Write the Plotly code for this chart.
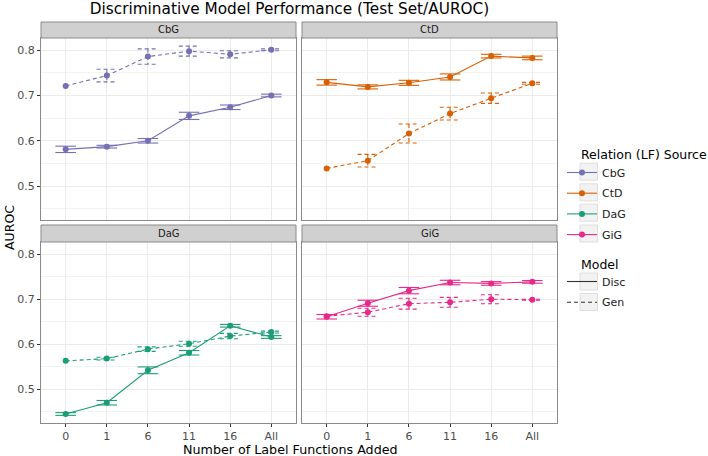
import plotly.graph_objects as go

# ---- data ----
categories = ['0', '1', '6', '11', '16', 'All']
relations = ['CbG', 'CtD', 'DaG', 'GiG']
colors = ['#7570b3', '#d95f02', '#1b9e77', '#e7298a']
models = ['Disc', 'Gen']

cbg_disc = [0.581, 0.587, 0.600, 0.655, 0.674, 0.700]
cbg_disc_err = [0.007, 0.003, 0.005, 0.008, 0.005, 0.003]
cbg_gen = [0.721, 0.744, 0.786, 0.798, 0.791, 0.801]
cbg_gen_err = [None, 0.014, 0.017, 0.011, 0.008, 0.002]

ctd_disc = [0.729, 0.719, 0.728, 0.741, 0.787, 0.783]
ctd_disc_err = [0.006, 0.0045, 0.0055, 0.0067, 0.004, 0.004]
ctd_gen = [0.539, 0.556, 0.616, 0.660, 0.694, 0.727]
ctd_gen_err = [None, 0.014, 0.021, 0.014, 0.0115, 0.002]

dag_disc = [0.445, 0.470, 0.542, 0.581, 0.641, 0.616]
dag_disc_err = [0.003, 0.005, 0.0075, 0.005, 0.003, 0.003]
dag_gen = [0.563, 0.568, 0.589, 0.601, 0.618, 0.627]
dag_gen_err = [None, 0.003, 0.005, 0.0055, 0.006, 0.002]

gig_disc = [0.661, 0.691, 0.719, 0.737, 0.735, 0.7385]
gig_disc_err = [0.005, 0.0067, 0.007, 0.005, 0.004, 0.003]
gig_gen = [0.662, 0.671, 0.690, 0.693, 0.700, 0.699]
gig_gen_err = [None, 0.009, 0.012, 0.011, 0.010, 0.001]

y_ticks = [0.5, 0.6, 0.7, 0.8]

series = {
    'CbG': (cbg_disc, cbg_disc_err, cbg_gen, cbg_gen_err),
    'CtD': (ctd_disc, ctd_disc_err, ctd_gen, ctd_gen_err),
    'DaG': (dag_disc, dag_disc_err, dag_gen, dag_gen_err),
    'GiG': (gig_disc, gig_disc_err, gig_gen, gig_gen_err),
}

W, H = 708, 456
ML, MR, MT, MB = 41, 151, 22, 33
PW = W - ML - MR
PH = H - MT - MB

def xdom(px0, px1):
    return [(px0 - ML) / PW, (px1 - ML) / PW]

def ydom(py0, py1):  # py0 top pixel, py1 bottom pixel
    return [(H - MB - py1) / PH, (H - MB - py0) / PH]

def px_x(px):
    return (px - ML) / PW

def px_y(py):
    return (H - MB - py) / PH

panels = {
    'CbG': dict(ax=1, xd=xdom(41, 296), yd=ydom(38, 220), strip=16),
    'CtD': dict(ax=2, xd=xdom(302, 557), yd=ydom(38, 220), strip=16),
    'DaG': dict(ax=3, xd=xdom(41, 296), yd=ydom(242, 423), strip=17),
    'GiG': dict(ax=4, xd=xdom(302, 557), yd=ydom(242, 423), strip=17),
}

xs = list(range(len(categories)))
CAP = 0.25

def errbar_path(vals, errs):
    ex, ey = [], []
    for i, (v, e) in enumerate(zip(vals, errs)):
        if e is None:
            continue
        ex += [i - CAP, i + CAP, None, i, i, None, i - CAP, i + CAP, None]
        ey += [v + e, v + e, None, v + e, v - e, None, v - e, v - e, None]
    return ex, ey

fig = go.Figure()
DASH = '4px,3px'
LW = 1.1

for rel, col in zip(relations, colors):
    p = panels[rel]
    a = p['ax']
    xa = 'x' if a == 1 else f'x{a}'
    ya = 'y' if a == 1 else f'y{a}'
    disc, disc_err, gen, gen_err = series[rel]
    for vals, errs, dash in [(gen, gen_err, DASH), (disc, disc_err, 'solid')]:
        ex, ey = errbar_path(vals, errs)
        fig.add_trace(go.Scatter(x=ex, y=ey, mode='lines', xaxis=xa, yaxis=ya,
                                 line=dict(color=col, width=LW, dash=dash),
                                 showlegend=False, hoverinfo='skip'))
        fig.add_trace(go.Scatter(x=xs, y=vals, mode='lines+markers', xaxis=xa, yaxis=ya,
                                 line=dict(color=col, width=LW, dash=dash),
                                 marker=dict(color=col, size=6),
                                 showlegend=False))

# legend entries
for rel, col in zip(relations, colors):
    fig.add_trace(go.Scatter(x=[None], y=[None], mode='lines+markers', name=rel,
                             line=dict(color=col, width=LW), marker=dict(color=col, size=6),
                             legend='legend', legendgroup=rel))
for name, dash in zip(models, ['solid', DASH]):
    fig.add_trace(go.Scatter(x=[None], y=[None], mode='lines', name=name,
                             line=dict(color='#333333', width=LW, dash=dash),
                             legend='legend2', legendgroup=name))

tickfont = dict(family='DejaVu Sans', size=11, color='#4d4d4d')
shapes, annotations = [], []
for rel in relations:
    p = panels[rel]
    a = p['ax']
    sfx = '' if a == 1 else str(a)
    bottom = rel in ('DaG', 'GiG')
    left = rel in ('CbG', 'DaG')
    fig.layout[f'xaxis{sfx}'] = dict(
        domain=p['xd'], anchor=f'y{sfx}', range=[-0.6, 5.6],
        tickmode='array', tickvals=xs, ticktext=categories,
        showticklabels=bottom, ticks='outside' if bottom else '', ticklen=3,
        tickcolor='#333333', tickfont=tickfont,
        showgrid=True, gridcolor='#ebebeb', gridwidth=1, zeroline=False,
        showline=True, mirror=True, linecolor='#8a8a8a', linewidth=1)
    fig.layout[f'yaxis{sfx}'] = dict(
        domain=p['yd'], anchor=f'x{sfx}', range=[0.425, 0.827],
        tickmode='array', tickvals=y_ticks, ticktext=[f'{v:.1f}' for v in y_ticks],
        showticklabels=left, ticks='outside' if left else '', ticklen=3,
        tickcolor='#333333', tickfont=tickfont,
        showgrid=True, gridcolor='#ebebeb', gridwidth=1, zeroline=False,
        minor=dict(tickvals=[0.45, 0.55, 0.65, 0.75], showgrid=True, gridcolor='#f3f3f3', gridwidth=0.6, ticks=''),
        showline=True, mirror=True, linecolor='#8a8a8a', linewidth=1)
    hfrac = p['strip'] / ((p['yd'][1] - p['yd'][0]) * PH)
    shapes.append(dict(type='rect', xref=f'x{sfx} domain', yref=f'y{sfx} domain',
                       x0=0, x1=1, y0=1, y1=1 + hfrac, fillcolor='#d0d0d0',
                       line=dict(color='#8a8a8a', width=1), layer='above'))
    annotations.append(dict(text=rel, xref=f'x{sfx} domain', yref=f'y{sfx} domain',
                            x=0.5, y=1 + hfrac / 2, showarrow=False, yanchor='middle',
                            font=dict(family='DejaVu Sans', size=10, color='#1a1a1a')))

# legend key boxes (decoration)
for yc in [171.7, 192.3, 212.7, 233.5, 281.5, 302.0]:
    shapes.append(dict(type='rect', xref='paper', yref='paper',
                       x0=px_x(580), x1=px_x(597.5), y0=px_y(yc + 8.5), y1=px_y(yc - 8.5),
                       fillcolor='#f2f2f2', line=dict(color='#dedede', width=1), layer='below'))

annotations.append(dict(text='AUROC', xref='paper', yref='paper', x=px_x(9),
                        y=px_y(228), textangle=-90, showarrow=False,
                        xanchor='center', yanchor='middle',
                        font=dict(family='DejaVu Sans', size=12.5, color='#000000')))
annotations.append(dict(text='Number of Label Functions Added', xref='paper', yref='paper',
                        x=px_x(290.5), y=px_y(449), showarrow=False,
                        xanchor='center', yanchor='middle',
                        font=dict(family='DejaVu Sans', size=12.7, color='#000000')))
annotations.append(dict(text='Relation (LF) Source', xref='paper', yref='paper',
                        x=px_x(579), y=px_y(154), showarrow=False,
                        xanchor='left', yanchor='middle',
                        font=dict(family='DejaVu Sans', size=12.5, color='#000000')))
annotations.append(dict(text='Model', xref='paper', yref='paper',
                        x=px_x(579), y=px_y(264), showarrow=False,
                        xanchor='left', yanchor='middle',
                        font=dict(family='DejaVu Sans', size=12.5, color='#000000')))

fig.update_layout(
    width=W, height=H,
    margin=dict(l=ML, r=MR, t=MT, b=MB, autoexpand=False),
    paper_bgcolor='white', plot_bgcolor='white',
    title=dict(text='Discriminative Model Performance (Test Set/AUROC)',
               x=289.5 / W, xanchor='center', y=1 - 9 / H, yanchor='middle',
               font=dict(family='DejaVu Sans', size=15.3, color='#000000')),
    font=dict(family='DejaVu Sans'),
    shapes=shapes, annotations=annotations,
    legend=dict(x=px_x(562), y=px_y(158), xanchor='left', yanchor='top',
                font=dict(size=11, color='#1a1a1a'), bgcolor='rgba(0,0,0,0)',
                itemwidth=30, tracegroupgap=1.7),
    legend2=dict(x=px_x(562), y=px_y(267), xanchor='left', yanchor='top',
                 font=dict(size=11, color='#1a1a1a'), bgcolor='rgba(0,0,0,0)',
                 itemwidth=30, tracegroupgap=1.7),
)

fig.write_html('out.html', config={'displayModeBar': False},
               post_script="document.body.style.margin='0';document.body.style.padding='0';")
